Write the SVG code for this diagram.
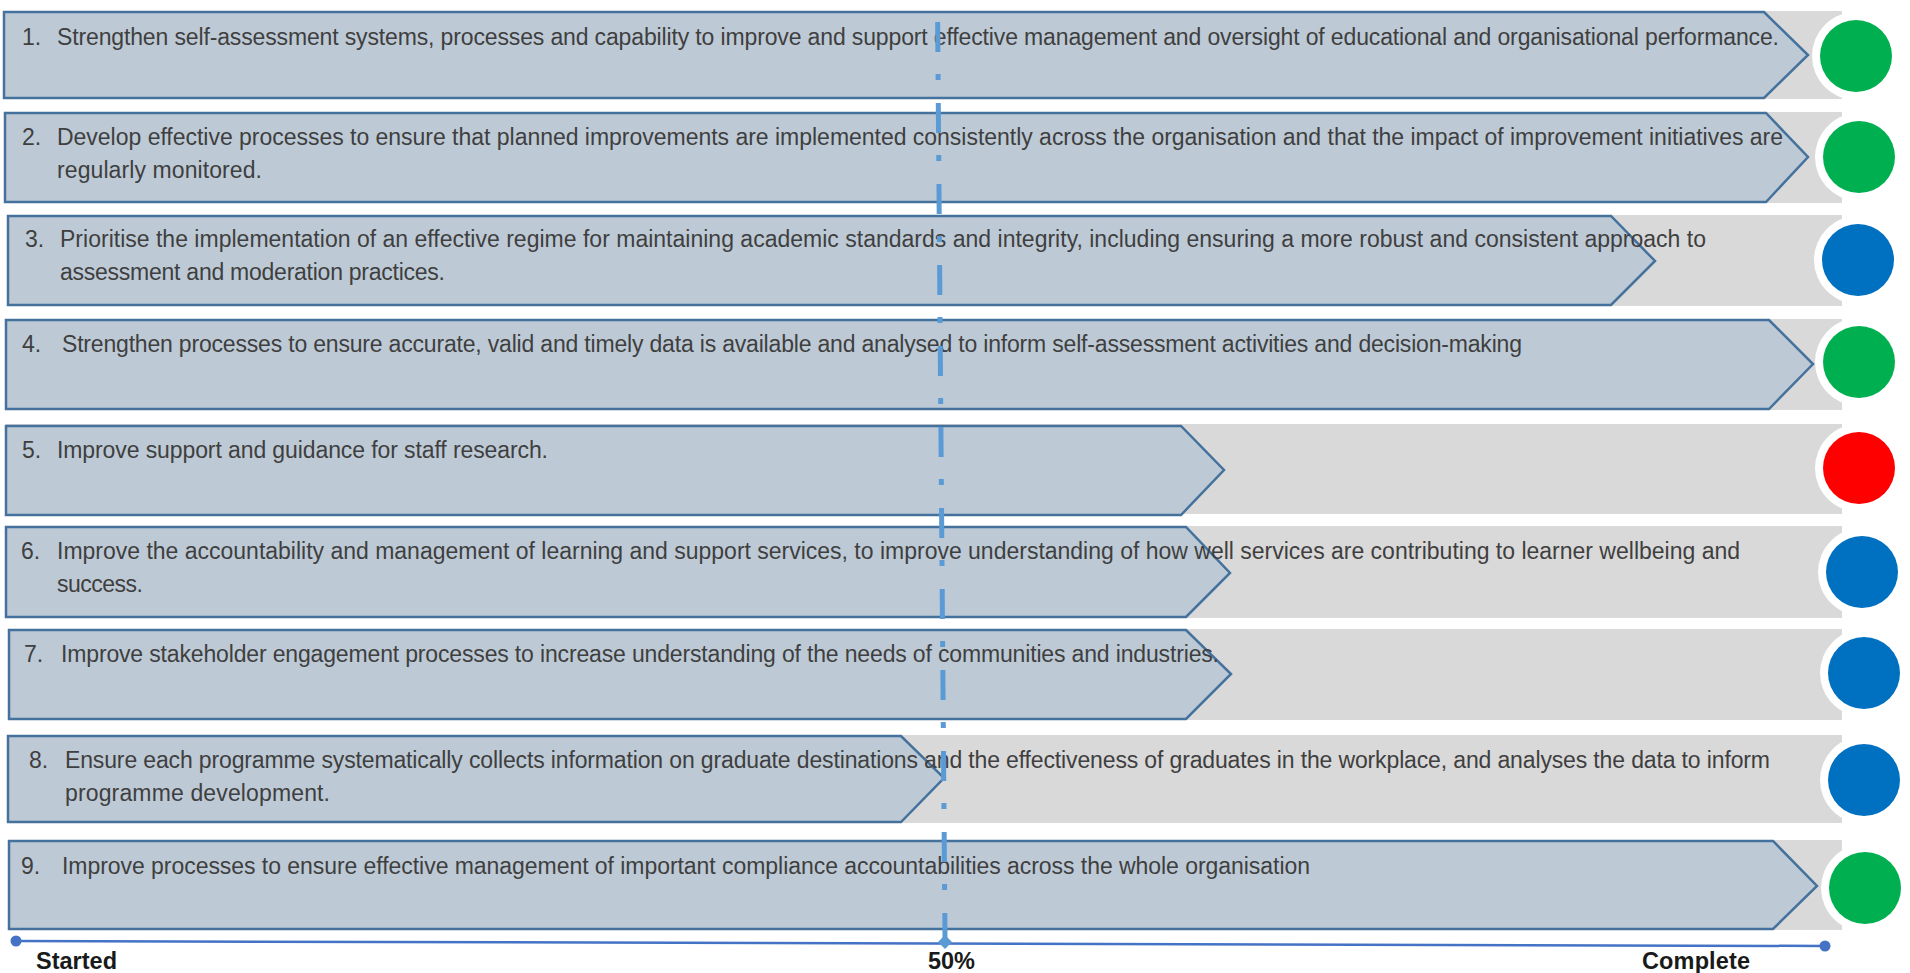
<svg xmlns="http://www.w3.org/2000/svg" width="1910" height="973" viewBox="0 0 1910 973">
  <style>
    .band { fill: #D9D9D9; }
    .arrow { fill: #BDCAD6; stroke: #44729D; stroke-width: 2.5; stroke-linejoin: miter; }
    .num, .txt { font-family: "Liberation Sans", Arial, sans-serif; font-size: 23px; fill: #3F3F3F; }
    .ring { fill: #FFFFFF; }
    .green { fill: #00B050; }
    .blue { fill: #0070C0; }
    .red { fill: #FF0000; }
    .axis { stroke: #4472C4; stroke-width: 2.5; fill: none; }
    .axis-dot { fill: #4472C4; }
    .mid { stroke: #5B9BD5; stroke-width: 5; stroke-dasharray: 30 22 6 23; fill: none; }
    .label { font-family: "Liberation Sans", Arial, sans-serif; font-size: 23.5px; font-weight: bold; fill: #1A1A1A; }
  </style>

  <rect width="1910" height="973" fill="#FFFFFF"/>

  <!-- 1 -->
  <g id="item-1">
    <rect class="band" x="4" y="11" width="1838" height="88"/>
    <polygon class="arrow" points="4,12 1764,12 1808,55 1764,98 4,98"/>
    <text class="num" x="22" y="45">1.</text>
    <text class="txt" x="57" y="45" textLength="1722" lengthAdjust="spacing">Strengthen self-assessment systems, processes and capability to improve and support effective management and oversight of educational and organisational performance.</text>
    <circle class="ring" cx="1856" cy="56" r="44"/>
    <circle class="green" cx="1856" cy="56" r="36"/>
  </g>

  <!-- 2 -->
  <g id="item-2">
    <rect class="band" x="5" y="112" width="1837" height="91"/>
    <polygon class="arrow" points="5,113 1766,113 1808,157 1766,202 5,202"/>
    <text class="num" x="22" y="145">2.</text>
    <text class="txt" x="57" y="145" textLength="1726" lengthAdjust="spacing">Develop effective processes to ensure that planned improvements are implemented consistently across the organisation and that the impact of improvement initiatives are</text>
    <text class="txt" x="57" y="178" textLength="205" lengthAdjust="spacing">regularly monitored.</text>
    <circle class="ring" cx="1859" cy="157" r="44"/>
    <circle class="green" cx="1859" cy="157" r="36"/>
  </g>

  <!-- 3 -->
  <g id="item-3">
    <rect class="band" x="8" y="215" width="1834" height="91"/>
    <polygon class="arrow" points="8,216 1611,216 1655,261 1611,305 8,305"/>
    <text class="num" x="25" y="247">3.</text>
    <text class="txt" x="60" y="247" textLength="1646" lengthAdjust="spacing">Prioritise the implementation of an effective regime for maintaining academic standards and integrity, including ensuring a more robust and consistent approach to</text>
    <text class="txt" x="60" y="280" textLength="385" lengthAdjust="spacing">assessment and moderation practices.</text>
    <circle class="ring" cx="1858" cy="260" r="44"/>
    <circle class="blue" cx="1858" cy="260" r="36"/>
  </g>

  <!-- 4 -->
  <g id="item-4">
    <rect class="band" x="6" y="319" width="1836" height="91"/>
    <polygon class="arrow" points="6,320 1769,320 1813,364 1769,409 6,409"/>
    <text class="num" x="22" y="352">4.</text>
    <text class="txt" x="62" y="352" textLength="1460" lengthAdjust="spacing">Strengthen processes to ensure accurate, valid and timely data is available and analysed to inform self-assessment activities and decision-making</text>
    <circle class="ring" cx="1859" cy="362" r="44"/>
    <circle class="green" cx="1859" cy="362" r="36"/>
  </g>

  <!-- 5 -->
  <g id="item-5">
    <rect class="band" x="6" y="424" width="1836" height="90"/>
    <polygon class="arrow" points="6,426 1181,426 1224,470 1181,515 6,515"/>
    <text class="num" x="22" y="458">5.</text>
    <text class="txt" x="57" y="458" textLength="491" lengthAdjust="spacing">Improve support and guidance for staff research.</text>
    <circle class="ring" cx="1859" cy="468" r="44"/>
    <circle class="red" cx="1859" cy="468" r="36"/>
  </g>

  <!-- 6 -->
  <g id="item-6">
    <rect class="band" x="6" y="526" width="1836" height="92"/>
    <polygon class="arrow" points="6,527 1186,527 1230,573 1186,617 6,617"/>
    <text class="num" x="21" y="559">6.</text>
    <text class="txt" x="57" y="559" textLength="1683" lengthAdjust="spacing">Improve the accountability and management of learning and support services, to improve understanding of how well services are contributing to learner wellbeing and</text>
    <text class="txt" x="57" y="592" textLength="86" lengthAdjust="spacing">success.</text>
    <circle class="ring" cx="1862" cy="572" r="44"/>
    <circle class="blue" cx="1862" cy="572" r="36"/>
  </g>

  <!-- 7 -->
  <g id="item-7">
    <rect class="band" x="9" y="629" width="1833" height="91"/>
    <polygon class="arrow" points="9,630 1186,630 1231,674 1186,719 9,719"/>
    <text class="num" x="24" y="662">7.</text>
    <text class="txt" x="61" y="662" textLength="1158" lengthAdjust="spacing">Improve stakeholder engagement processes to increase understanding of the needs of communities and industries.</text>
    <circle class="ring" cx="1864" cy="673" r="44"/>
    <circle class="blue" cx="1864" cy="673" r="36"/>
  </g>

  <!-- 8 -->
  <g id="item-8">
    <rect class="band" x="8" y="735" width="1834" height="88"/>
    <polygon class="arrow" points="8,736 901,736 944,778 901,822 8,822"/>
    <text class="num" x="29" y="768">8.</text>
    <text class="txt" x="65" y="768" textLength="1705" lengthAdjust="spacing">Ensure each programme systematically collects information on graduate destinations and the effectiveness of graduates in the workplace, and analyses the data to inform</text>
    <text class="txt" x="65" y="801" textLength="265" lengthAdjust="spacing">programme development.</text>
    <circle class="ring" cx="1864" cy="780" r="44"/>
    <circle class="blue" cx="1864" cy="780" r="36"/>
  </g>

  <!-- 9 -->
  <g id="item-9">
    <rect class="band" x="9" y="840" width="1833" height="90"/>
    <polygon class="arrow" points="9,841 1773,841 1817,886 1773,929 9,929"/>
    <text class="num" x="21" y="874">9.</text>
    <text class="txt" x="62" y="874" textLength="1248" lengthAdjust="spacing">Improve processes to ensure effective management of important compliance accountabilities across the whole organisation</text>
    <circle class="ring" cx="1865" cy="888" r="44"/>
    <circle class="green" cx="1865" cy="888" r="36"/>
  </g>

  <!-- progress scale: baseline axis and 50% marker line -->
  <g id="connectors">
    <line class="axis" x1="16" y1="941" x2="1825" y2="946"/>
    <circle class="axis-dot" cx="16" cy="941" r="5.5"/>
    <circle class="axis-dot" cx="1825" cy="946" r="5.5"/>
    <line class="mid" x1="937" y1="-59" x2="945" y2="938"/>
    <polygon fill="#5B9BD5" points="945,935 952,942 945,949 938,942"/>
  </g>

  <g id="scale-labels">
    <text class="label" x="36" y="969" textLength="81" lengthAdjust="spacing">Started</text>
    <text class="label" x="928" y="969" textLength="47" lengthAdjust="spacing">50%</text>
    <text class="label" x="1642" y="969" textLength="108" lengthAdjust="spacing">Complete</text>
  </g>
</svg>
